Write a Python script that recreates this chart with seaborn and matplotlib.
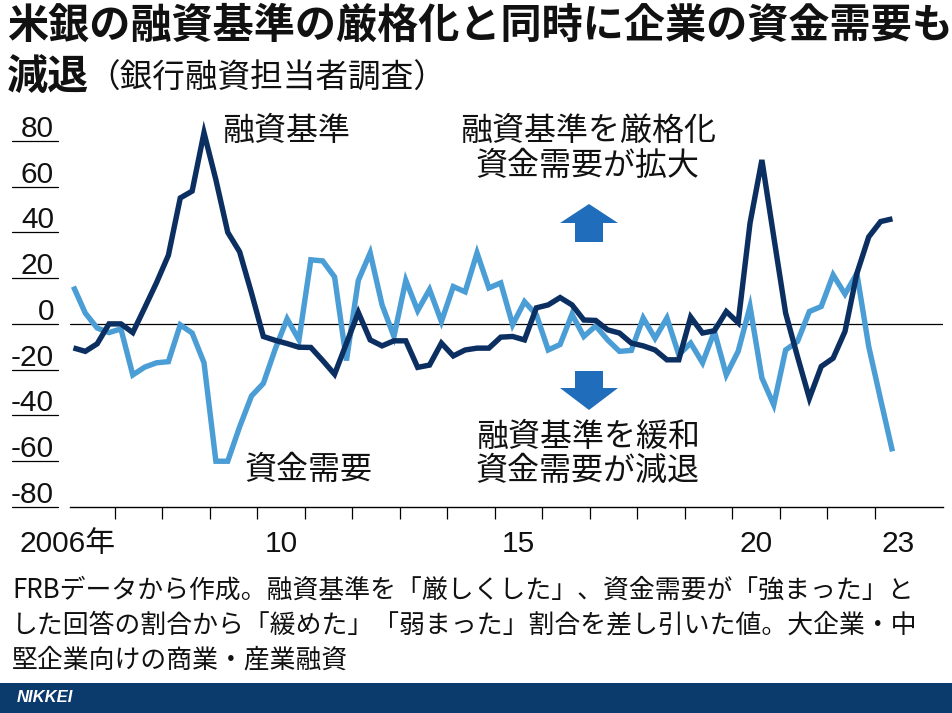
import numpy as np
import pandas as pd
import seaborn as sns
import matplotlib
matplotlib.use("Agg")
import matplotlib.pyplot as plt
from matplotlib import transforms
from matplotlib.lines import Line2D
from matplotlib.patches import Polygon, Rectangle

# ---- data (quarterly, 2006Q1 .. 2023Q2) ----
start_year = 2006
standards = [-10.5, -12, -8.7, 0, 0, -3.8, 7, 18, 30, 55, 58, 83.5, 63, 40, 31.5, 13.5,
             -5.5, -7.2, -8.6, -10.2, -10.3, -16, -22, -8.5, 5, -7, -9.6, -7.4, -7.4, -19,
             -18, -8.4, -14, -11.4, -10.6, -10.6, -5.8, -5.5, -7, 7, 8.3, 11.5, 8.3, 1.7,
             1.5, -2.6, -4, -8.4, -9.6, -11.4, -15.7, -15.7, 3, -4, -3, 5.4, 0.5, 44, 71.6,
             38, 4.7, -14.3, -32.5, -18.6, -15, -3.3, 22, 38, 44.7, 45.9]
demand = [16.3, 4.7, -1.8, -3.8, -2.2, -22.3, -18.9, -17, -16.5, -0.4, -4, -17, -60, -60,
          -45, -31.5, -26, -11, 2.2, -7, 28, 27.5, 20.5, -16, 19, 31, 8.3, -5.5, 19, 5.8,
          15, 1, 16.3, 14, 31, 15.7, 17.9, -0.4, 9.7, 4, -11.4, -9, 4.2, -5.5, -0.9, -7,
          -12, -11.6, 2.6, -6.3, 2.6, -13.5, -8.4, -17, -3.3, -22.3, -12, 7.6, -23.6, -35.4,
          -11.4, -7.7, 5.4, 7.6, 21.4, 13, 22, -9.9, -33, -55.7]
yticks = [80, 60, 40, 20, 0, -20, -40, -60, -80]
xtick_years = list(range(2007, 2024))
xlabel_years = [2010, 2015, 2020, 2023]
xlabel_texts = ["10", "15", "20", "23"]
first_label = "2006年"

title1 = "米銀の融資基準の厳格化と同時に企業の資金需要も"
title2a = "減退"
title2b = "（銀行融資担当者調査）"
notes = ["FRBデータから作成。融資基準を「厳しくした」、資金需要が「強まった」と",
         "した回答の割合から「緩めた」「弱まった」割合を差し引いた値。大企業・中",
         "堅企業向けの商業・産業融資"]

quarters = [start_year + (i + 0.5) / 4 for i in range(len(standards))]
df = pd.DataFrame({"t": quarters, "融資基準": standards, "資金需要": demand})

DARK = "#0c2f62"
LIGHT = "#4b9dd5"
ARROW = "#1f6dbb"
BAND = "#0b3a6c"

sns.set_style("white")
plt.rcParams["font.family"] = ["Noto Sans CJK JP", "DejaVu Sans"]
NUMFONT = ["Liberation Sans Narrow", "Liberation Sans", "Noto Sans CJK JP"]

W, H = 952, 713
fig = plt.figure(figsize=(W / 100, H / 100), dpi=100)


def fx(x):
    return x / W


def fy(y):
    return 1 - y / H


AX_L, AX_R, AX_T, AX_B = 70, 943, 110, 507
ax = fig.add_axes([fx(AX_L), fy(AX_B), fx(AX_R) - fx(AX_L), fy(AX_T) - fy(AX_B)])

sns.lineplot(data=df, x="t", y="資金需要", color=LIGHT, linewidth=3.9, ax=ax,
             solid_joinstyle="miter", solid_capstyle="butt", zorder=3)
sns.lineplot(data=df, x="t", y="融資基準", color=DARK, linewidth=3.9, ax=ax,
             solid_joinstyle="miter", solid_capstyle="butt", zorder=4)
ax.axhline(0, color="black", lw=0.9, zorder=2)

px_per_year = 47.48
x0 = 67.5
ax.set_xlim(start_year + (AX_L - x0) / px_per_year, start_year + (AX_R - x0) / px_per_year)
px_per_unit = 2.289
ax.set_ylim(-80, -80 + (AX_B - AX_T) / px_per_unit)

for s in ["top", "right", "left"]:
    ax.spines[s].set_visible(False)
ax.spines["bottom"].set_linewidth(1.0)
ax.spines["bottom"].set_color("black")
ax.set_xticks(xtick_years)
ax.set_xticklabels([])
ax.set_yticks([])
ax.tick_params(axis="x", bottom=True, direction="out", length=8.8, width=0.9, color="black")
ax.set_xlabel("")
ax.set_ylabel("")
ax.set_facecolor("white")

# y tick lines + labels
blend_y = transforms.blended_transform_factory(fig.transFigure, ax.transData)
for v in yticks:
    fig.add_artist(Line2D([fx(12), fx(58)], [v, v], transform=blend_y, color="black", lw=0.9))
    fig.text(fx(54), v + 4 / px_per_unit, str(v), transform=blend_y, ha="right",
             va="baseline", fontsize=21.5, family=NUMFONT, color="#111111")

# x labels
blend_x = transforms.blended_transform_factory(ax.transData, fig.transFigure)
for yr, lab in zip(xlabel_years, xlabel_texts):
    fig.text(yr + 0.5, fy(544), lab, transform=blend_x, ha="center", va="center",
             fontsize=21.5, family=NUMFONT, color="#111111")
fig.text(2007.02, fy(544), first_label, transform=blend_x, ha="right", va="center",
         fontsize=21.5, family=NUMFONT, color="#111111")

# titles
fig.text(fx(7), fy(26), title1, fontsize=29.6, fontweight="bold", va="center", ha="left",
         color="#111111")
fig.text(fx(7), fy(78), title2a, fontsize=29.6, fontweight="bold", va="center",
         ha="left", color="#111111")
fig.text(fx(87), fy(79), title2b, fontsize=23.5, va="center", ha="left", color="#111111")

# annotations
ANN = 23
fig.text(fx(222), fy(131), "融資基準", fontsize=ANN, va="center", ha="left", color="#111111")
fig.text(fx(245), fy(470), "資金需要", fontsize=ANN, va="center", ha="left", color="#111111")
fig.text(fx(588), fy(131), "融資基準を厳格化", fontsize=ANN, va="center", ha="center", color="#111111")
fig.text(fx(588), fy(166), "資金需要が拡大", fontsize=ANN, va="center", ha="center", color="#111111")
fig.text(fx(588), fy(437), "融資基準を緩和", fontsize=ANN, va="center", ha="center", color="#111111")
fig.text(fx(588), fy(471), "資金需要が減退", fontsize=ANN, va="center", ha="center", color="#111111")

# arrows
up = [(589, 204), (618, 223), (603, 223), (603, 242), (575, 242), (575, 223), (560, 223)]
down = [(575, 371), (603, 371), (603, 388), (618, 388), (589, 410), (560, 388), (575, 388)]
for pts in (up, down):
    fig.add_artist(Polygon([(fx(a), fy(b)) for a, b in pts], closed=True,
                           transform=fig.transFigure, facecolor=ARROW, edgecolor="none"))

# notes
for k, line in enumerate(notes):
    fig.text(fx(12), fy(590 + 35 * k), line, fontsize=18.6, va="center", ha="left",
             color="#111111")

# bottom band
fig.add_artist(Rectangle((0, 0), 1, fy(683), transform=fig.transFigure,
                         facecolor=BAND, edgecolor="none"))
fig.text(fx(17), fy(698), "NIKKEI", fontsize=12, fontweight="bold", fontstyle="italic",
         color="white", va="center", ha="left", family=["Liberation Sans", "DejaVu Sans"])

fig.savefig("out.png", dpi=100, facecolor="white")
